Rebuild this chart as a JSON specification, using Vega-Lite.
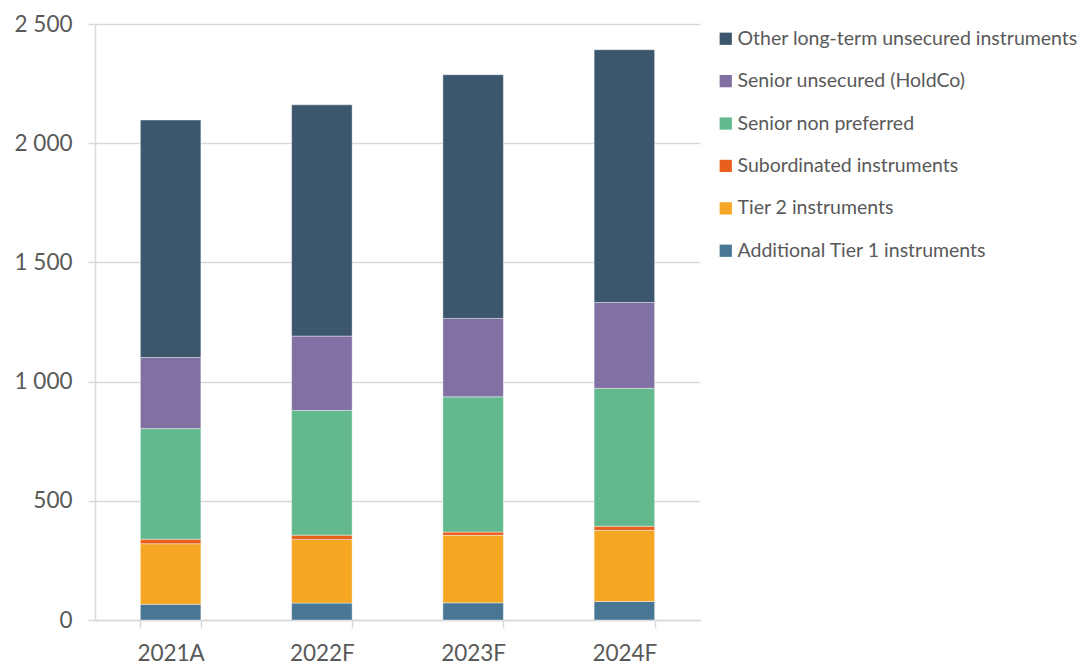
{
  "$schema": "https://vega.github.io/schema/vega-lite/v6.json",
  "autosize": "none",
  "width": 605,
  "height": 596,
  "padding": {"left": 95, "top": 24, "right": 383, "bottom": 46},
  "background": "white",
  "config": {
    "view": {"stroke": null},
    "font": "Lato"
  },
  "data": {
    "values": [
      {"year": "2021A", "type": "Additional Tier 1 instruments", "ord": 1, "value": 66},
      {"year": "2021A", "type": "Tier 2 instruments", "ord": 2, "value": 254},
      {"year": "2021A", "type": "Subordinated instruments", "ord": 3, "value": 19},
      {"year": "2021A", "type": "Senior non preferred", "ord": 4, "value": 464},
      {"year": "2021A", "type": "Senior unsecured (HoldCo)", "ord": 5, "value": 298},
      {"year": "2021A", "type": "Other long-term unsecured instruments", "ord": 6, "value": 996},
      {"year": "2022F", "type": "Additional Tier 1 instruments", "ord": 1, "value": 71},
      {"year": "2022F", "type": "Tier 2 instruments", "ord": 2, "value": 267},
      {"year": "2022F", "type": "Subordinated instruments", "ord": 3, "value": 18},
      {"year": "2022F", "type": "Senior non preferred", "ord": 4, "value": 523},
      {"year": "2022F", "type": "Senior unsecured (HoldCo)", "ord": 5, "value": 312},
      {"year": "2022F", "type": "Other long-term unsecured instruments", "ord": 6, "value": 970},
      {"year": "2023F", "type": "Additional Tier 1 instruments", "ord": 1, "value": 72},
      {"year": "2023F", "type": "Tier 2 instruments", "ord": 2, "value": 283},
      {"year": "2023F", "type": "Subordinated instruments", "ord": 3, "value": 14},
      {"year": "2023F", "type": "Senior non preferred", "ord": 4, "value": 567},
      {"year": "2023F", "type": "Senior unsecured (HoldCo)", "ord": 5, "value": 329},
      {"year": "2023F", "type": "Other long-term unsecured instruments", "ord": 6, "value": 1022},
      {"year": "2024F", "type": "Additional Tier 1 instruments", "ord": 1, "value": 78},
      {"year": "2024F", "type": "Tier 2 instruments", "ord": 2, "value": 298},
      {"year": "2024F", "type": "Subordinated instruments", "ord": 3, "value": 17},
      {"year": "2024F", "type": "Senior non preferred", "ord": 4, "value": 579},
      {"year": "2024F", "type": "Senior unsecured (HoldCo)", "ord": 5, "value": 360},
      {"year": "2024F", "type": "Other long-term unsecured instruments", "ord": 6, "value": 1060}
    ]
  },
  "mark": {"type": "bar", "stroke": "#ffffff", "strokeOpacity": 0.4, "strokeWidth": 1},
  "encoding": {
    "x": {
      "field": "year", "type": "nominal", "title": null,
      "scale": {"paddingInner": 0.6, "paddingOuter": 0.3},
      "axis": {
        "labelAngle": 0, "labelFontSize": 22.5, "labelColor": "#595959", "labelPadding": 14,
        "domainColor": "#d9d9d9", "domainWidth": 1.5, "tickColor": "#d9d9d9", "tickWidth": 1.5, "tickSize": 8,
        "tickBand": "extent", "grid": false
      }
    },
    "y": {
      "field": "value", "type": "quantitative", "title": null, "stack": "zero",
      "scale": {"domain": [0, 2500]},
      "axis": {
        "values": [0, 500, 1000, 1500, 2000, 2500],
        "labelExpr": "replace(format(datum.value, ','), ',', ' ')",
        "labelFontSize": 22.5, "labelColor": "#595959", "labelPadding": 16,
        "domainColor": "#d9d9d9", "domainWidth": 1.5,
        "tickColor": "#d9d9d9", "tickWidth": 1.5, "tickSize": 7,
        "gridColor": "#d9d9d9", "gridWidth": 1.5
      }
    },
    "color": {
      "field": "type", "type": "nominal", "title": null,
      "scale": {
        "domain": ["Other long-term unsecured instruments", "Senior unsecured (HoldCo)", "Senior non preferred", "Subordinated instruments", "Tier 2 instruments", "Additional Tier 1 instruments"],
        "range": ["#3c566e", "#8170a3", "#62b98e", "#e8601c", "#f5a623", "#487694"]
      },
      "legend": {
        "orient": "none", "legendX": 621, "legendY": 5,
        "symbolType": "square", "symbolSize": 150, "symbolStrokeWidth": 0,
        "labelFontSize": 19.5, "labelColor": "#595959", "labelLimit": 400,
        "rowPadding": 21.4, "labelOffset": 2
      }
    },
    "order": {"field": "ord", "type": "quantitative", "sort": "ascending"}
  }
}
